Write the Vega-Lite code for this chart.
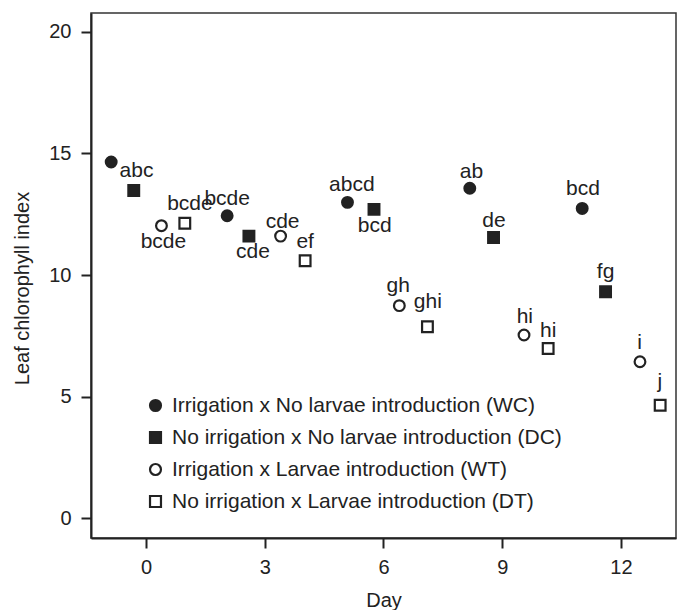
{
  "$schema": "https://vega.github.io/schema/vega-lite/v6.json",
  "width": 585,
  "height": 525,
  "autosize": {"type": "none"},
  "padding": {"left": 91, "top": 13, "right": 1, "bottom": 72},
  "background": "white",
  "config": {
    "view": {"stroke": "#333", "strokeWidth": 1.5},
    "font": "Liberation Sans",
    "axis": {
      "grid": false,
      "domainColor": "#222",
      "domainWidth": 2,
      "tickColor": "#222",
      "tickWidth": 2,
      "tickSize": 10,
      "labelFontSize": 20,
      "labelColor": "#222",
      "titleFontSize": 20,
      "titleFontWeight": "normal",
      "titleColor": "#222",
      "labelFont": "Liberation Sans",
      "titleFont": "Liberation Sans"
    },
    "legend": {
      "orient": "none",
      "legendX": 54,
      "legendY": 382,
      "labelFontSize": 21,
      "labelLimit": 600,
      "labelColor": "#222",
      "labelFont": "Liberation Sans",
      "rowPadding": 10,
      "labelOffset": 6,
      "symbolStrokeWidth": 2.2,
      "symbolSize": 120,
      "symbolOpacity": 1,
      "padding": 0
    }
  },
  "data": {
    "values": [
      {"series": "Irrigation x No larvae introduction (WC)", "day": -0.88, "chl": 14.65, "letter": null, "lday": null, "lchl": null},
      {"series": "Irrigation x No larvae introduction (WC)", "day": 2.05, "chl": 12.44, "letter": "bcde", "lday": 2.05, "lchl": 13.13},
      {"series": "Irrigation x No larvae introduction (WC)", "day": 5.09, "chl": 12.99, "letter": "abcd", "lday": 5.2, "lchl": 13.7},
      {"series": "Irrigation x No larvae introduction (WC)", "day": 8.18, "chl": 13.57, "letter": "ab", "lday": 8.22, "lchl": 14.25},
      {"series": "Irrigation x No larvae introduction (WC)", "day": 11.02, "chl": 12.74, "letter": "bcd", "lday": 11.04, "lchl": 13.53},
      {"series": "No irrigation x No larvae introduction (DC)", "day": -0.31, "chl": 13.48, "letter": "abc", "lday": -0.24, "lchl": 14.26},
      {"series": "No irrigation x No larvae introduction (DC)", "day": 2.6, "chl": 11.6, "letter": "cde", "lday": 2.7, "lchl": 10.93},
      {"series": "No irrigation x No larvae introduction (DC)", "day": 5.76, "chl": 12.7, "letter": "bcd", "lday": 5.78, "lchl": 12.02},
      {"series": "No irrigation x No larvae introduction (DC)", "day": 8.78, "chl": 11.54, "letter": "de", "lday": 8.79, "lchl": 12.24},
      {"series": "No irrigation x No larvae introduction (DC)", "day": 11.61, "chl": 9.31, "letter": "fg", "lday": 11.61, "lchl": 10.14},
      {"series": "Irrigation x Larvae introduction (WT)", "day": 0.39, "chl": 12.03, "letter": "bcde", "lday": 0.44, "lchl": 11.37},
      {"series": "Irrigation x Larvae introduction (WT)", "day": 3.4, "chl": 11.6, "letter": "cde", "lday": 3.45, "lchl": 12.2},
      {"series": "Irrigation x Larvae introduction (WT)", "day": 6.4, "chl": 8.74, "letter": "gh", "lday": 6.37, "lchl": 9.56},
      {"series": "Irrigation x Larvae introduction (WT)", "day": 9.55, "chl": 7.53, "letter": "hi", "lday": 9.57, "lchl": 8.28},
      {"series": "Irrigation x Larvae introduction (WT)", "day": 12.48, "chl": 6.43, "letter": "i", "lday": 12.47, "lchl": 7.19},
      {"series": "No irrigation x Larvae introduction (DT)", "day": 0.98, "chl": 12.13, "letter": "bcde", "lday": 1.11, "lchl": 12.92},
      {"series": "No irrigation x Larvae introduction (DT)", "day": 4.02, "chl": 10.59, "letter": "ef", "lday": 4.02, "lchl": 11.35},
      {"series": "No irrigation x Larvae introduction (DT)", "day": 7.11, "chl": 7.87, "letter": "ghi", "lday": 7.12, "lchl": 8.9},
      {"series": "No irrigation x Larvae introduction (DT)", "day": 10.16, "chl": 6.98, "letter": "hi", "lday": 10.16, "lchl": 7.71},
      {"series": "No irrigation x Larvae introduction (DT)", "day": 12.99, "chl": 4.64, "letter": "j", "lday": 12.98, "lchl": 5.61}
    ]
  },
  "layer": [
    {
      "mark": {"type": "point", "filled": true, "strokeWidth": 2.2, "opacity": 1, "size": 115},
      "encoding": {
        "x": {"field": "day", "type": "quantitative", "title": "Day",
              "scale": {"domain": [-1.39, 13.39], "nice": false, "zero": false},
              "axis": {"values": [0, 3, 6, 9, 12], "labelPadding": 9, "titlePadding": 13}},
        "y": {"field": "chl", "type": "quantitative", "title": "Leaf chlorophyll index",
              "scale": {"domain": [-0.82, 20.78], "nice": false, "zero": false},
              "axis": {"values": [0, 5, 10, 15, 20], "labelPadding": 10, "titleX": -63, "titleY": 275, "titleAngle": -90, "titleAlign": "center", "titleBaseline": "alphabetic"}},
        "shape": {"field": "series", "type": "nominal", "title": null,
                  "legend": {"symbolStrokeWidth": 2.2, "encode": {"symbols": {"update": {"strokeWidth": {"value": 2.2}, "stroke": {"value": "#222222"}}}}},
                  "scale": {"domain": ["Irrigation x No larvae introduction (WC)", "No irrigation x No larvae introduction (DC)", "Irrigation x Larvae introduction (WT)", "No irrigation x Larvae introduction (DT)"],
                            "range": ["circle", "square", "circle", "square"]}},
        "fill": {"field": "series", "type": "nominal", "title": null,
                 "legend": {"symbolStrokeWidth": 2.2, "encode": {"symbols": {"update": {"strokeWidth": {"value": 2.2}, "stroke": {"value": "#222222"}}}}},
                 "scale": {"domain": ["Irrigation x No larvae introduction (WC)", "No irrigation x No larvae introduction (DC)", "Irrigation x Larvae introduction (WT)", "No irrigation x Larvae introduction (DT)"],
                           "range": ["#222222", "#222222", "#ffffff", "#ffffff"]}},
        "stroke": {"field": "series", "type": "nominal", "title": null,
                   "legend": {"symbolStrokeWidth": 2.2, "encode": {"symbols": {"update": {"strokeWidth": {"value": 2.2}, "stroke": {"value": "#222222"}}}}},
                   "scale": {"domain": ["Irrigation x No larvae introduction (WC)", "No irrigation x No larvae introduction (DC)", "Irrigation x Larvae introduction (WT)", "No irrigation x Larvae introduction (DT)"],
                             "range": ["#222222", "#222222", "#222222", "#222222"]}}
      }
    },
    {
      "transform": [{"filter": "datum.letter != null"}],
      "mark": {"type": "text", "fontSize": 21, "font": "Liberation Sans", "color": "#222", "align": "center", "baseline": "middle"},
      "encoding": {
        "x": {"field": "lday", "type": "quantitative"},
        "y": {"field": "lchl", "type": "quantitative"},
        "text": {"field": "letter"}
      }
    }
  ]
}
